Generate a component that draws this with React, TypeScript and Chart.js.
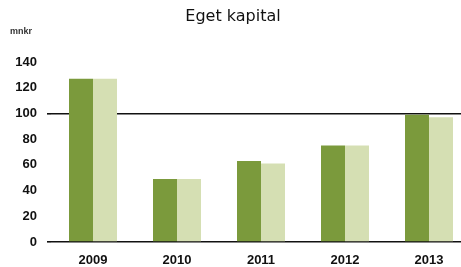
import React, { useEffect, useRef } from "react";
import { Chart, registerables } from "chart.js";

Chart.register(...registerables);

const categories = ["2009", "2010", "2011", "2012", "2013"];
const seriesA = [127, 49, 63, 75, 99];
const seriesB = [127, 49, 61, 75, 97];
const yTicks = [0, 20, 40, 60, 80, 100, 120, 140];
const titleText = "Eget kapital";
const unitText = "mnkr";

const CANVAS_W = 480;
const CANVAS_H = 267;

export default function App() {
  const ref = useRef<HTMLCanvasElement | null>(null);

  useEffect(() => {
    if (!ref.current) return;
    const textPlugin = {
      id: "texts",
      afterDraw(chart: any) {
        const ctx = chart.ctx;
        ctx.save();
        ctx.fillStyle = "#111";
        ctx.textBaseline = "middle";
        ctx.textAlign = "center";
        ctx.font = "16px 'DejaVu Sans', sans-serif";
        ctx.fillText(titleText, 233, 17);
        ctx.textAlign = "left";
        ctx.fillStyle = "#333";
        ctx.font = "bold 9px 'Liberation Sans', Arial, sans-serif";
        ctx.fillText(unitText, 10, 32);
        ctx.restore();
      },
    };
    const chart = new Chart(ref.current, {
      type: "bar",
      data: {
        labels: categories,
        datasets: [
          {
            data: seriesA,
            backgroundColor: "#7b9a3c",
            borderWidth: 0,
            categoryPercentage: 0.5714,
            barPercentage: 1,
          },
          {
            data: seriesB,
            backgroundColor: "#d5dfb3",
            borderWidth: 0,
            categoryPercentage: 0.5714,
            barPercentage: 1,
          },
        ],
      },
      options: {
        responsive: false,
        animation: false,
        layout: { padding: { top: 62, right: 9, left: 0, bottom: 0 } },
        plugins: {
          legend: { display: false },
          title: { display: false },
          tooltip: { enabled: false },
        },
        scales: {
          x: {
            grid: { display: false, drawTicks: false },
            border: { display: false },
            ticks: {
              color: "#111",
              padding: 11,
              font: { family: "'Liberation Sans', Arial, sans-serif", size: 13, weight: "bold" },
            },
            afterFit(scale: any) {
              scale.height = 25;
            },
          },
          y: {
            min: 0,
            max: 140,
            border: { display: false },
            afterBuildTicks(scale: any) {
              scale.ticks = yTicks.map((v) => ({ value: v }));
            },
            afterFit(scale: any) {
              scale.width = 51;
            },
            grid: {
              drawTicks: true,
              tickLength: 4,
              color: (ctx: any) =>
                ctx.tick && (ctx.tick.value === 0 || ctx.tick.value === 100) ? "#111" : "rgba(0,0,0,0)",
              lineWidth: 1.6,
            },
            ticks: {
              color: "#111",
              padding: 10,
              font: { family: "'Liberation Sans', Arial, sans-serif", size: 13, weight: "bold" },
            },
          },
        },
      },
      plugins: [textPlugin],
    });
    return () => chart.destroy();
  }, []);

  return (
    <div
      style={{
        position: "fixed",
        left: 0,
        top: 0,
        width: 461,
        height: 267,
        overflow: "hidden",
        background: "#fff",
      }}
    >
      <canvas ref={ref} width={CANVAS_W} height={CANVAS_H} style={{ display: "block" }} />
    </div>
  );
}
